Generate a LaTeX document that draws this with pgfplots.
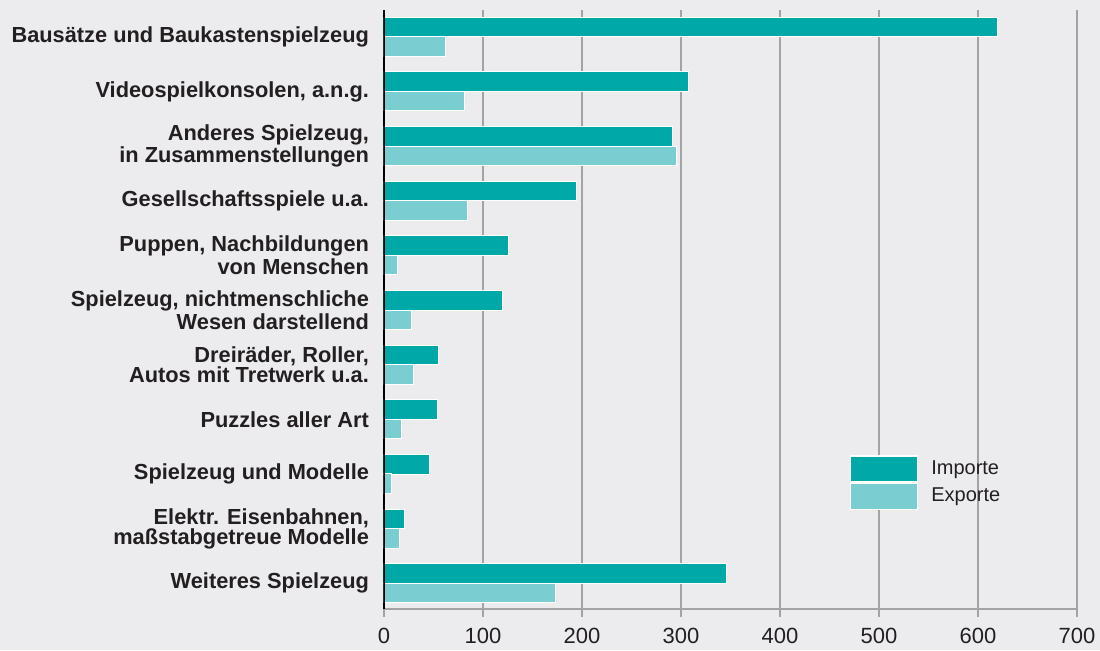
\documentclass[border=0pt]{standalone}
\usepackage{fontspec}
\setmainfont{Liberation Sans}
\usepackage{pgfplots}
\pgfplotsset{compat=1.18}
\usetikzlibrary{backgrounds}
\definecolor{bgc}{HTML}{ECECEF}
\definecolor{imp}{HTML}{00A8A8}
\definecolor{exp}{HTML}{7ACDD0}
\definecolor{gridc}{HTML}{A3A3A6}
\definecolor{txt}{HTML}{231F20}

\begin{document}
\begin{tikzpicture}
\begin{axis}[
  name=ax,
  scale only axis,
  width=346.5pt, height=299.5pt,
  xbar, bar width=0.357,
  y dir=reverse,
  xmin=0, xmax=700, ymin=-0.49, ymax=10.47,
  xtick={0,100,...,700},
  ytick={0,...,10},
  yticklabels={
    Bausätze und Baukastenspielzeug,
    {Videospielkonsolen, a.n.g.},
    {Anderes Spielzeug,\\in Zusammenstellungen},
    Gesellschaftsspiele u.a.,
    {Puppen, Nachbildungen\\von Menschen},
    {Spielzeug, nichtmenschliche\\Wesen darstellend},
    {Dreiräder, Roller,\\Autos mit Tretwerk u.a.},
    Puzzles aller Art,
    Spielzeug und Modelle,
    {Elektr. Eisenbahnen,\\maßstabgetreue Modelle},
    Weiteres Spielzeug},
  yticklabel style={align=right, font=\fontsize{10.9}{10}\selectfont\bfseries, text=txt, xshift=0pt},
  xticklabel style={font=\fontsize{11}{12}\selectfont, text=txt, yshift=-2pt},
  /pgf/number format/assume math mode=true,
  axis lines*=left,
  x axis line style={gridc, line width=0.75pt, -},
  y axis line style={black, line width=0.9pt, -},
  xmajorgrids, major grid style={gridc, line width=0.75pt},
  xtick align=outside, major tick length=4pt,
  x tick style={gridc, line width=0.75pt},
  y tick style={draw=none},
  legend style={at={(0.672,0.257)}, anchor=north west, draw=none, fill=none,
    row sep=0pt, inner sep=0pt, font=\fontsize{10}{12}\selectfont, text=txt,
    nodes={inner sep=0pt, anchor=west},
    /tikz/every odd column/.append style={column sep=6.5pt}},
  legend image code/.code={\draw[#1, draw=white, line width=0.6pt] (0pt,-6.5pt) rectangle (33.5pt,6.5pt);},
]
\addplot[fill=imp, draw=white, line width=0.5pt, bar shift=-0.178] coordinates {
  (620,0) (308,1) (291,2) (194,3) (126,4) (120,5) (55,6) (54,7) (46,8) (21,9) (346,10)};
\addlegendentry{Importe}
\addplot[fill=exp, draw=white, line width=0.5pt, bar shift=0.178] coordinates {
  (62,0) (81,1) (295,2) (84,3) (14,4) (28,5) (30,6) (18,7) (8,8) (16,9) (173,10)};
\addlegendentry{Exporte}
% left axis line over the bars' white edges
\draw[black, line width=0.9pt] (rel axis cs:0,0) -- (rel axis cs:0,1);
\end{axis}
\pgfresetboundingbox
\path[use as bounding box] ([xshift=-192pt,yshift=-20.5pt]ax.south west) rectangle ([xshift=11.5pt,yshift=5pt]ax.north east);
\begin{scope}[on background layer]
\fill[bgc] ([xshift=-192pt,yshift=-20.5pt]ax.south west) rectangle ([xshift=11.5pt,yshift=5pt]ax.north east);
\end{scope}
\end{tikzpicture}
\end{document}
